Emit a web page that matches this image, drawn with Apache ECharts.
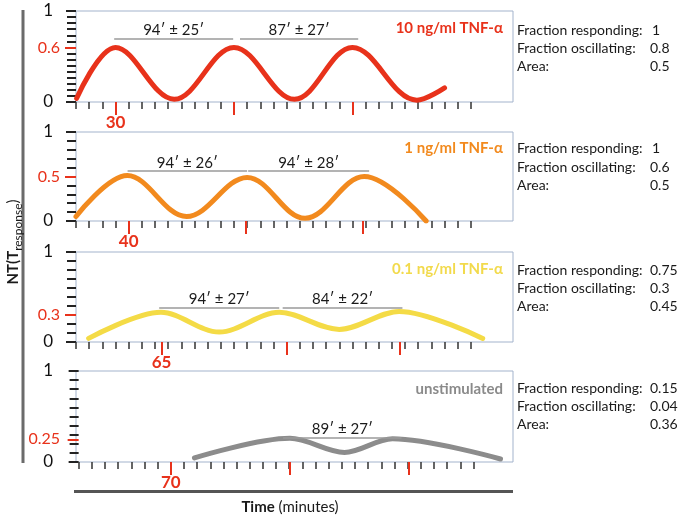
<!DOCTYPE html>
<html><head><meta charset="utf-8">
<script src="https://cdn.jsdelivr.net/npm/echarts@6/dist/echarts.min.js"></script>
<style>html,body{margin:0;padding:0;background:#fff}#c{width:680px;height:517px}</style>
</head><body><div id="c"></div>
<script>
// ---- data ----
const xTicks = [0,10,20,30,40,50,60,70,80,90,100,110,120,130,140,150,160,170,180,190,200,210,220,230,240,250,260,270,280,290,300];
const conditions = ['10 ng/ml TNF-α','1 ng/ml TNF-α','0.1 ng/ml TNF-α','unstimulated'];
const fracResponding = ['1','1','0.75','0.15'];
const fracOscillating = ['0.8','0.6','0.3','0.04'];
const areaValues = ['0.5','0.5','0.45','0.36'];
const markedLevels = [0.6, 0.5, 0.3, 0.25];
const peakTicks1 = [30,120,210];
const peakTicks2 = [40,129,218];
const peakTicks3 = [65,160,246];
const peakTicks4 = [70,160.5,250.5];
// curves (time in minutes, NT value)
const time1 = [0.5,30,74.6,120,166,210,259,280];
const nt1   = [0.04,0.6,0.03,0.6,0.03,0.6,0.02,0.155];
const time2 = [0,39,84,130,174,219,266];
const nt2   = [0.05,0.51,0.05,0.49,0.03,0.5,0.0];
const time3 = [9.6,64.5,108.8,154.4,200,245.5,309];
const nt3   = [0.04,0.33,0.11,0.33,0.14,0.34,0.04];
const time4 = [88,160.5,202,238.5,320.5];
const nt4   = [0.045,0.26,0.105,0.255,0.033];
// period bars
const periodStart1 = [29,124.6], periodEnd1 = [119.4,214.4], periodLabel1 = ['94′ ± 25′','87′ ± 27′'];
const periodStart2 = [39.2,130.8], periodEnd2 = [130,222.7], periodLabel2 = ['94′ ± 26′','94′ ± 28′'];
const periodStart3 = [63.2,157], periodEnd3 = [154.4,248], periodLabel3 = ['94′ ± 27′','84′ ± 22′'];
const periodStart4 = [155.4], periodEnd4 = [245.3], periodLabel4 = ['89′ ± 27′'];
const periodLevel = [0.7, 0.56, 0.378, 0.27];

// ---- layout / style ----
const FONT = 'Lato, "Open Sans", sans-serif';
const colors = ['#e8321b','#f28a1e','#f4db46','#8c8c8c'];
const titleColors = ['#e8321b','#f28a1e','#f2da4c','#8a8a8a'];
const RED = '#e8321b';
const grids = [
  {top:11, height:91},
  {top:132, height:89},
  {top:252, height:90},
  {top:371, height:91}
];
const xMins = [0,0,0,-2];
const minorSplits = [15,10,10,10];
const times = [time1,time2,time3,time4];
const nts = [nt1,nt2,nt3,nt4];
const peaks = [peakTicks1,peakTicks2,peakTicks3,peakTicks4];
const pStarts = [periodStart1,periodStart2,periodStart3,periodStart4];
const pEnds = [periodEnd1,periodEnd2,periodEnd3,periodEnd4];
const pLabels = [periodLabel1,periodLabel2,periodLabel3,periodLabel4];

const option = {animation:false, grid:[], xAxis:[], yAxis:[], series:[], graphic:[]};

for (let i=0;i<4;i++){
  option.grid.push({left:76, right:167, top:grids[i].top, height:grids[i].height,
    show:true, borderColor:'#a3b3cc', borderWidth:1, containLabel:false});
  const xmin = xMins[i], xmax = xMins[i] + 332;
  option.xAxis.push({type:'value', gridIndex:i, min:xmin, max:xmax, position:'bottom',
    axisLine:{show:false}, splitLine:{show:false},
    axisTick:{show:true, customValues:xTicks, length:7, lineStyle:{color:'#333', width:1.5}},
    axisLabel:{show:false}});
  option.xAxis.push({type:'value', gridIndex:i, min:xmin, max:xmax, position:'bottom',
    axisLine:{show:false}, splitLine:{show:false},
    axisTick:{show:true, customValues:peaks[i], length:13, lineStyle:{color:RED, width:2}},
    axisLabel:{show:true, customValues:[peaks[i][0]], color:RED, fontSize:17, fontWeight:'bold',
      fontFamily:FONT, margin:12, formatter:(v)=>String(Math.round(v))}});
  option.yAxis.push({type:'value', gridIndex:i, min:0, max:1, interval:1, position:'left',
    axisLine:{show:false}, splitLine:{show:false},
    axisTick:{show:true, length:10, lineStyle:{color:'#222', width:2}},
    minorTick:{show:true, splitNumber:minorSplits[i], length:9, lineStyle:{color:'#222', width:2}},
    minorSplitLine:{show:false},
    axisLabel:{show:true, color:'#111', fontSize:17, fontFamily:FONT, margin:23}});
  option.yAxis.push({type:'value', gridIndex:i, min:0, max:1, position:'left',
    axisLine:{show:false}, splitLine:{show:false},
    axisTick:{show:true, customValues:[markedLevels[i]], length:11, lineStyle:{color:RED, width:2}},
    axisLabel:{show:true, customValues:[markedLevels[i]], color:RED, fontSize:16, fontFamily:FONT, margin:16,
      formatter:(v)=>String(v)}});

  const data = times[i].map((t,k)=>[t, nts[i][k]]);
  const mlData = pStarts[i].map((s,k)=>[
    {coord:[s, periodLevel[i]], name:pLabels[i][k]},
    {coord:[pEnds[i][k], periodLevel[i]]}
  ]);
  option.series.push({type:'line', xAxisIndex:2*i, yAxisIndex:2*i, data:data,
    smooth:(i>=2?0.33:0.37), showSymbol:false, symbol:'none',
    lineStyle:{color:colors[i], width:5, cap:'round', join:'round'},
    markLine:{silent:true, symbol:'none', animation:false,
      lineStyle:{color:'#9a9a9a', width:1.5, type:'solid'},
      label:{show:true, position:'insideMiddleTop', formatter:'{b}', color:'#1a1a1a',
        fontSize:15, fontFamily:FONT, distance:1},
      data:mlData}
  });

  const titleY = [28,148,269,389][i];
  option.graphic.push({type:'text', x:503, y:titleY, style:{text:conditions[i], fill:titleColors[i],
    font:'bold 15px '+FONT, textAlign:'right', textVerticalAlign:'middle'}});
  const rows = [[30,48,66],[148,167,185],[270,288,306],[388,406,424]][i];
  const labels = ['Fraction responding:','Fraction oscillating:','Area:'];
  const vals = [fracResponding[i], fracOscillating[i], areaValues[i]];
  for (let r=0;r<3;r++){
    option.graphic.push({type:'text', x:517, y:rows[r], style:{text:labels[r], fill:'#1a1a1a',
      font:'14px '+FONT, textVerticalAlign:'middle'}});
    option.graphic.push({type:'text', x:(r===0 && vals[r].length===1 ? 652 : 650), y:rows[r], style:{text:vals[r], fill:'#1a1a1a',
      font:'14px '+FONT, textVerticalAlign:'middle'}});
  }
}

// decorations
option.graphic.push({type:'rect', shape:{x:21.5, y:10, width:3, height:453}, style:{fill:'#6b6b6b'}});
option.graphic.push({type:'rect', shape:{x:74, y:490, width:439, height:3}, style:{fill:'#555'}});
option.graphic.push({type:'text', x:13, y:242, rotation:Math.PI/2,
  style:{text:'{b|NT(T}{s|response}{n|)}', textAlign:'center', textVerticalAlign:'middle',
    rich:{b:{font:'bold 15px '+FONT, fill:'#1a1a1a', lineHeight:22, verticalAlign:'middle'},
          s:{font:'12px '+FONT, fill:'#1a1a1a', lineHeight:22, verticalAlign:'bottom', padding:[10,0,0,0]},
          n:{font:'15px '+FONT, fill:'#1a1a1a', lineHeight:22, verticalAlign:'middle'}}}});
option.graphic.push({type:'text', x:290, y:507,
  style:{text:'{b|Time} (minutes)', font:'15px '+FONT, fill:'#1a1a1a', textAlign:'center', textVerticalAlign:'middle',
    rich:{b:{font:'bold 15px '+FONT, fill:'#1a1a1a'}}}});

const chart = echarts.init(document.getElementById('c'), null, {renderer:'canvas'});
chart.setOption(option);
</script></body></html>
